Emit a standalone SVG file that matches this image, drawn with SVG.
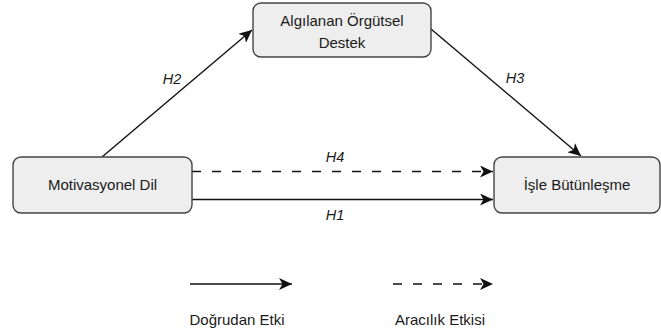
<svg xmlns="http://www.w3.org/2000/svg" width="661" height="332" viewBox="0 0 661 332">
<style>
.box{fill:#eeeeee;stroke:#444444;stroke-width:1.4}
.lbl{font-family:"Liberation Sans",Arial,sans-serif;font-size:15px;fill:#1a1a1a;text-anchor:middle}
.h{font-family:"Liberation Sans",Arial,sans-serif;font-size:14.5px;font-style:italic;fill:#1a1a1a;text-anchor:middle}
.ln{fill:none;stroke:#111111;stroke-width:1.4}
.dash{stroke-dasharray:9 11}
</style>
<defs>
<marker id="ah" markerUnits="userSpaceOnUse" markerWidth="14" markerHeight="12" viewBox="0 0 14 12" refX="13" refY="6" orient="auto">
<path d="M0,0 L13,6 L0,12 L3.5,6 Z" fill="#111111"/>
</marker>
</defs>
<g id="connectors">
<line class="ln" x1="102" y1="157" x2="252" y2="30" marker-end="url(#ah)"/>
<line class="ln" x1="431" y1="29" x2="581" y2="156" marker-end="url(#ah)"/>
<line class="ln dash" x1="192" y1="171.5" x2="493" y2="171.5" marker-end="url(#ah)"/>
<line class="ln" x1="192" y1="199.5" x2="493" y2="199.5" marker-end="url(#ah)"/>
<text class="h" x="172" y="84">H2</text>
<text class="h" x="515" y="83">H3</text>
<text class="h" x="335" y="162">H4</text>
<text class="h" x="335" y="220">H1</text>
</g>
<g id="n-destek">
<rect class="box" x="253" y="3" width="178" height="54" rx="8"/>
<text class="lbl" x="342" y="26">Algılanan Örgütsel</text>
<text class="lbl" x="342" y="48">Destek</text>
</g>
<g id="n-motivasyonel">
<rect class="box" x="13" y="157" width="179" height="56" rx="8"/>
<text class="lbl" x="102.5" y="190">Motivasyonel Dil</text>
</g>
<g id="n-isle">
<rect class="box" x="494" y="157" width="166" height="56" rx="8"/>
<text class="lbl" x="577" y="190">İşle Bütünleşme</text>
</g>
<g id="legend">
<line class="ln" x1="190" y1="284" x2="292" y2="284" marker-end="url(#ah)"/>
<line class="ln dash" x1="393" y1="284" x2="493" y2="284" marker-end="url(#ah)"/>
<text class="lbl" x="237" y="325">Doğrudan Etki</text>
<text class="lbl" x="440" y="325">Aracılık Etkisi</text>
</g>
</svg>
